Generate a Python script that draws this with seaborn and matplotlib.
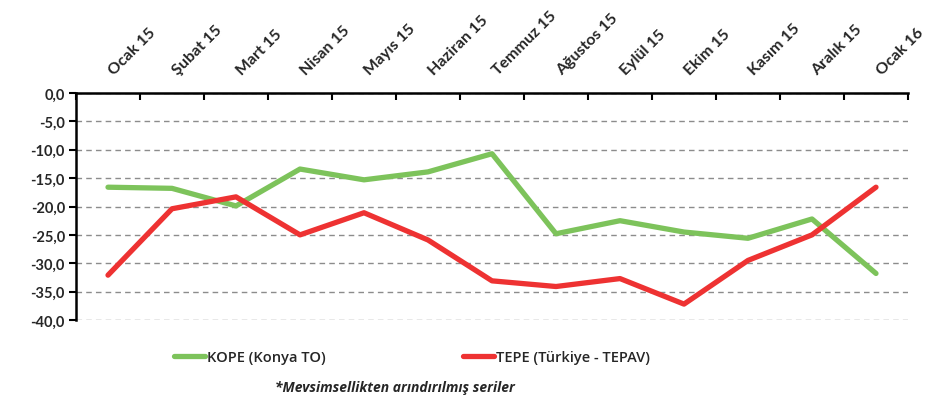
import pandas as pd
import seaborn as sns
import matplotlib.pyplot as plt
from matplotlib.ticker import FuncFormatter, MultipleLocator
from matplotlib.transforms import ScaledTranslation

# months on the (top) category axis
months = ["Ocak 15", "Şubat 15", "Mart 15", "Nisan 15", "Mayıs 15", "Haziran 15", "Temmuz 15",
          "Ağustos 15", "Eylül 15", "Ekim 15", "Kasım 15", "Aralık 15", "Ocak 16"]

# series values
kope = [-16.6, -16.8, -19.9, -13.4, -15.3, -13.9, -10.7, -24.8, -22.5, -24.5, -25.6, -22.2, -31.8]
tepe = [-32.1, -20.4, -18.3, -25.0, -21.1, -25.9, -33.1, -34.1, -32.7, -37.2, -29.5, -25.0, -16.6]

series_names = ["KOPE (Konya TO)", "TEPE (Türkiye - TEPAV)"]
colors = ["#7DC35B", "#EE3232"]

# long form table for seaborn
data = pd.DataFrame({
    "Ay": months * 2,
    "Değer": kope + tepe,
    "Seri": [series_names[0]] * len(months) + [series_names[1]] * len(months),
})

sns.set_style("white")
plt.rcParams["font.family"] = ["Lato", "DejaVu Sans"]

fig = plt.figure(figsize=(9.3, 4.02), dpi=100)
ax = fig.add_axes([76 / 930, 1 - 321 / 402, 832 / 930, 227 / 402])

sns.lineplot(data=data, x="Ay", y="Değer", hue="Seri", palette=colors, linewidth=3.8,
             sort=False, ax=ax, legend=True)

ax.set_xlim(-0.5, len(months) - 0.5)
ax.set_ylim(-40, 0)
ax.set_xlabel("")
ax.set_ylabel("")

# category axis on top, labels rotated, tick marks between categories
ax.xaxis.tick_top()
ax.set_xticks(range(len(months)))
ax.set_xticklabels(months, rotation=45, ha="left", va="baseline", rotation_mode="anchor",
                   fontsize=11.5, fontweight="bold")
ax.set_xticks([i - 0.5 for i in range(len(months) + 1)], minor=True)
ax.tick_params(axis="x", which="major", length=0, pad=13)
ax.tick_params(axis="x", which="minor", top=True, direction="in", length=5, width=1.5, color="black")
shift = ScaledTranslation(4 / 72, 0, fig.dpi_scale_trans)
for lab in ax.get_xticklabels():
    lab.set_transform(lab.get_transform() + shift)

ax.yaxis.set_major_locator(MultipleLocator(5))
ax.yaxis.set_major_formatter(FuncFormatter(lambda v, p: f"{v:.1f}".replace(".", ",")))
ax.tick_params(axis="y", left=True, direction="out", length=5, width=1.5, color="black",
               labelsize=10.5, pad=3)
for lab in ax.get_yticklabels():
    lab.set_fontweight("bold")

ax.grid(axis="y", linestyle=(0, (4, 3)), color="#8C8C8C", linewidth=1)
ax.grid(axis="x", visible=False)

for side in ["right", "bottom"]:
    ax.spines[side].set_visible(False)
for side in ["top", "left"]:
    ax.spines[side].set_color("black")
    ax.spines[side].set_linewidth(1.8)

handles, labels = ax.get_legend_handles_labels()
ax.get_legend().remove()
for h in handles:
    h.set_linewidth(3.8)
fig.legend(handles, labels, loc="center", bbox_to_anchor=(412 / 930, 1 - 358 / 402), ncol=2,
           frameon=False, handlelength=2.1, handletextpad=0.15, columnspacing=9.4,
           prop={"family": ["Open Sans", "DejaVu Sans"], "size": 10.5, "weight": "semibold"})

fig.text(395 / 930, 1 - 388 / 402, "*Mevsimsellikten arındırılmış seriler", ha="center", va="center",
         fontsize=10, fontweight="bold", fontstyle="italic", family=["Open Sans", "DejaVu Sans"])

plt.savefig("out.png", dpi=100)
